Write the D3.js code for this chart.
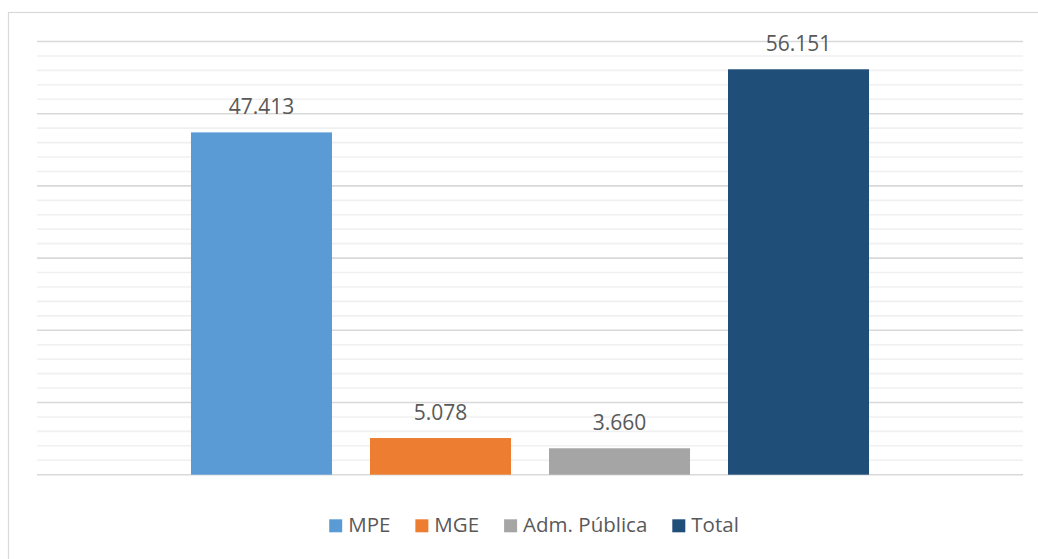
<!DOCTYPE html>
<html><head><meta charset="utf-8">
<script src="https://cdn.jsdelivr.net/npm/d3@7"></script>
<style>body{margin:0;background:#fff}svg{display:block}</style>
</head><body><svg id="c" width="1038" height="559"></svg>
<script>
const series = ["MPE", "MGE", "Adm. Pública", "Total"];
const values = [47413, 5078, 3660, 56151];
const colors = ["#5b9bd5", "#ed7d31", "#a5a5a5", "#1f4e79"];
const categories = [""];
const yMax = 60000, majorStep = 10000, minorStep = 2000;

const svg = d3.select("#c");
const W = 1038, H = 559;
const plot = {left: 37, right: 1023, top: 41.5, bottom: 474.7};
const font = "'Open Sans', sans-serif";
const textColor = "#595959";
const loc = d3.formatLocale({decimal: ",", thousands: ".", grouping: [3], currency: ["R$", ""]});
const fmt = loc.format(",d");

svg.append("rect").attr("x", 0).attr("y", 0).attr("width", W).attr("height", H).attr("fill", "#fff");
svg.append("rect").attr("x", 8.5).attr("y", 12.5).attr("width", W + 20).attr("height", H + 20)
  .attr("fill", "#fff").attr("stroke", "#d9d9d9").attr("stroke-width", 1.2);

const y = d3.scaleLinear().domain([0, yMax]).range([plot.bottom, plot.top]);
const x0 = d3.scaleBand().domain(categories).range([plot.left, plot.right]).paddingInner(0).paddingOuter(0.2271);
const x1 = d3.scaleBand().domain(series).range([0, x0.bandwidth()]).paddingInner(0.2123).paddingOuter(0);

const minorTicks = d3.range(0, yMax + 1, minorStep).filter(v => v % majorStep !== 0);
const majorTicks = d3.range(0, yMax + 1, majorStep);

svg.append("g").selectAll("line").data(minorTicks).join("line")
  .attr("x1", plot.left).attr("x2", plot.right)
  .attr("y1", d => y(d)).attr("y2", d => y(d))
  .attr("stroke", "#f0f0f0").attr("stroke-width", 1.6);
svg.append("g").selectAll("line").data(majorTicks).join("line")
  .attr("x1", plot.left).attr("x2", plot.right)
  .attr("y1", d => y(d)).attr("y2", d => y(d))
  .attr("stroke", "#d9d9d9").attr("stroke-width", 1.6);

const data = series.map((s, i) => ({s, v: values[i], c: colors[i]}));
const g = svg.append("g").attr("transform", `translate(${x0("")},0)`);
g.selectAll("rect").data(data).join("rect")
  .attr("x", d => x1(d.s)).attr("width", x1.bandwidth())
  .attr("y", d => y(d.v)).attr("height", d => y(0) - y(d.v))
  .attr("fill", d => d.c);
g.selectAll("text").data(data).join("text")
  .attr("x", d => x1(d.s) + x1.bandwidth() / 2)
  .attr("y", d => y(d.v) - 18.4)
  .attr("text-anchor", "middle")
  .attr("font-family", font).attr("font-size", 21).attr("fill", textColor)
  .text(d => fmt(d.v));

// legend
const lg = svg.append("g");
const items = lg.selectAll("g").data(data).join("g");
items.append("rect").attr("width", 13).attr("height", 13).attr("y", -13).attr("fill", d => d.c);
items.append("text").attr("x", 19).attr("y", 0)
  .attr("font-family", font).attr("font-size", 20.5).attr("fill", textColor).text(d => d.s);
let cx = 0;
items.each(function() {
  const w = this.querySelector("text").getComputedTextLength();
  d3.select(this).attr("transform", `translate(${cx},0)`);
  cx += 19 + w + 25;
});
const totalW = cx - 25;
lg.attr("transform", `translate(${534 - totalW / 2},532.3)`);
</script></body></html>
